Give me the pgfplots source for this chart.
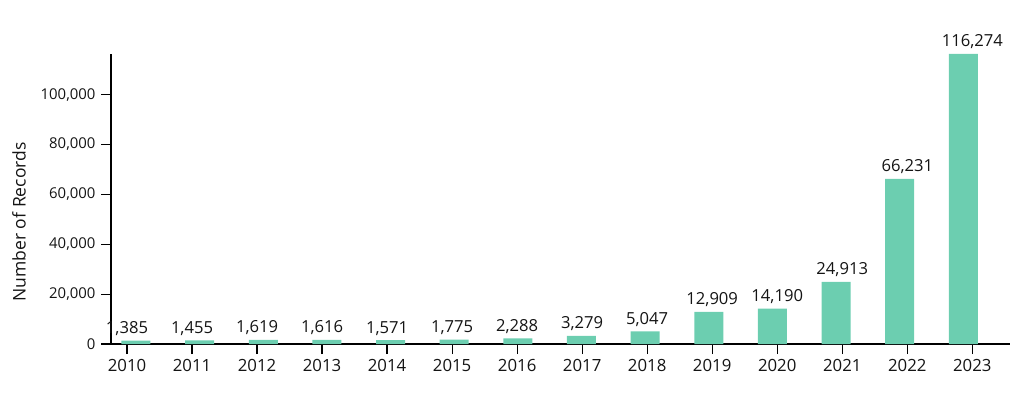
\documentclass[border=0pt]{standalone}
\usepackage{pgfplots}
\pgfplotsset{compat=1.18}
\usepackage{fontspec}
\setmainfont{Open Sans}
\definecolor{barcol}{RGB}{108,206,176}
\definecolor{txt}{RGB}{20,20,20}
\begin{document}
\begin{tikzpicture}
\useasboundingbox (0,0) rectangle (1024pt,404pt);
\begin{axis}[
  at={(111pt,60pt)}, anchor=south west,
  scale only axis, width=899pt, height=290pt,
  xmin=-0.246, xmax=13.58, ymin=0, ymax=116274,
  axis x line*=bottom, axis y line*=left,
  axis line style={line width=1.3pt, black, -},
  xtick style={draw=black, line width=1.2pt},
  ytick style={draw=black, line width=1.2pt},
  tick align=outside, major tick length=10pt,
  xtick={0,...,13},
  xticklabels={2010,2011,2012,2013,2014,2015,2016,2017,2018,2019,2020,2021,2022,2023},
  ytick={0,20000,40000,60000,80000,100000},
  scaled y ticks=false,
  yticklabel style={/pgf/number format/fixed, /pgf/number format/1000 sep={,}, /pgf/number format/assume math mode=true},
  x tick label style={font=\fontsize{16.8}{20}\selectfont, text=txt, yshift=-2pt},
  y tick label style={font=\fontsize{14.9}{18}\selectfont, text=txt, xshift=-2pt},
  clip=false,
]
\addplot[ybar, bar width=29pt, fill=barcol, draw=none] coordinates {
(0.138,1385) (1.117,1455) (2.096,1619) (3.074,1616) (4.053,1571) (5.032,1775)
(6.011,2288) (6.989,3279) (7.968,5047) (8.947,12909) (9.926,14190)
(10.904,24913) (11.883,66231) (12.862,116274)
};
\addplot[draw=none, mark=none, nodes near coords, point meta=explicit symbolic,
  every node near coord/.style={anchor=base, yshift=7pt, font=\fontsize{16.6}{20}\selectfont, text=txt}]
coordinates {
(0,1385)[1,385] (1,1455)[1,455] (2,1619)[1,619] (3,1616)[1,616] (4,1571)[1,571]
(5,1775)[1,775] (6,2288)[2,288] (7,3279)[3,279] (8,5047)[5,047] (9,12909)[12,909]
(10,14190)[14,190] (11,24913)[24,913] (12,66231)[66,231] (13,116274)[116,274]
};
\end{axis}
\node[rotate=90, font=\fontsize{17.5}{21}\selectfont, text=txt] at (19pt,182pt) {Number of Records};
\end{tikzpicture}
\end{document}
